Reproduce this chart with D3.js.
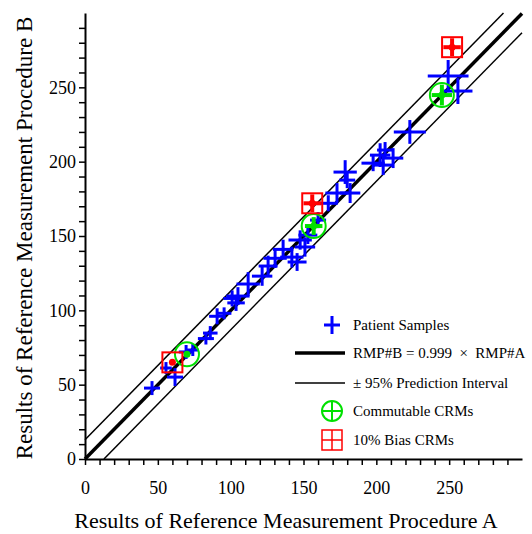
<!DOCTYPE html>
<meta charset="utf-8">
<script src="https://d3js.org/d3.v7.min.js"></script>
<style>
  body { margin: 0; background: #fff; }
</style>
<div id="chart"></div>
<script>
// patient samples: x, y and half-length of the error bars (data units)
var patX  = [46, 55.6, 61.8, 69.4, 74, 83, 86, 90.7, 95.5, 101, 105, 103.7, 112, 121.6, 125.7, 130.5, 136, 142, 145.6, 147.7, 151, 153, 160, 167, 173, 182, 178.6, 180, 197.8, 202.6, 211.5, 206, 204.7, 223, 249.3, 256];
var patY  = [47.7, 61.2, 55.1, 72, 73.3, 81, 84.7, 96, 98, 108, 109.6, 105, 117.7, 123, 129.8, 135, 141, 135.8, 132.5, 147.3, 142.6, 150.6, 160.7, 172, 178.9, 178.9, 193, 187.6, 199, 204.4, 202.4, 207.8, 197.7, 220, 257.6, 247.5];
var patXe = [5.5, 4, 5.5, 5, 4, 5.5, 5, 5.5, 5, 6, 8, 6, 8, 7, 6.5, 8, 7, 8, 6.5, 8, 7, 6.5, 5.5, 6.5, 8, 7, 8, 5.5, 8, 7, 7, 5.5, 7, 11, 14, 10];
var patYe = [4.7, 4, 6, 4.7, 4, 4, 4.7, 5.4, 4, 5.4, 6, 5.4, 8, 6.5, 7, 6.5, 6.5, 7, 6, 6.5, 6.5, 6, 5.4, 5.4, 6.7, 6.7, 8, 5.4, 5.4, 8, 6.7, 5.4, 6.7, 8, 10.8, 8.7];

// certified reference materials
var comX = [70, 157, 245];
var comY = [70.5, 156.7, 244.8];
var comE = [1.5, 6, 7];
var biasX = [60, 156, 252];
var biasY = [65, 172, 277];
var biasE = [1.5, 6, 6];

var slope = 0.999;
var pi95 = 13;
var xTicks = d3.range(0, 300, 10);
var yTicks = d3.range(0, 300, 10);
var labelTicks = [0, 50, 100, 150, 200, 250];

var serif = "'Times New Roman', 'Liberation Serif', 'DejaVu Serif', serif";
var width = 532, height = 534;
var svg = d3.select("#chart").append("svg")
    .attr("width", width).attr("height", height)
    .style("font-family", serif);

var x = d3.scaleLinear().domain([0, 300]).range([85, 522]);
var y = d3.scaleLinear().domain([0, 300]).range([459, 13]);

// axes
svg.append("g")
    .attr("transform", "translate(0,459)")
    .call(d3.axisBottom(x).tickValues(xTicks).tickSize(6).tickSizeOuter(0)
      .tickFormat(function(d) { return labelTicks.indexOf(d) >= 0 ? d : ""; }))
    .call(function(g) {
      g.attr("font-family", null).attr("font-size", null);
      g.select(".domain").attr("stroke-width", 2);
      g.selectAll(".tick line").attr("stroke-width", 1.5);
      g.selectAll(".tick text").style("font-size", "18px").style("font-family", serif).attr("dy", "1.45em");
    });

svg.append("g")
    .attr("transform", "translate(85,0)")
    .call(d3.axisLeft(y).tickValues(yTicks).tickSize(6).tickSizeOuter(0)
      .tickFormat(function(d) { return labelTicks.indexOf(d) >= 0 ? d : ""; }))
    .call(function(g) {
      g.attr("font-family", null).attr("font-size", null);
      g.select(".domain").attr("stroke-width", 2);
      g.selectAll(".tick line").attr("stroke-width", 1.5);
      g.selectAll(".tick text").style("font-size", "18px").style("font-family", serif).attr("x", -9);
    });

// axis titles
svg.append("text")
    .attr("x", 286).attr("y", 528)
    .attr("text-anchor", "middle")
    .style("font-size", "22px")
    .text("Results of Reference Measurement Procedure A");

svg.append("text")
    .attr("transform", "translate(32,238) rotate(-90)")
    .attr("text-anchor", "middle")
    .style("font-size", "23px")
    .text("Results of Reference Measurement Procedure B");

// regression and prediction lines
var plot = svg.append("g");
plot.append("line")
    .attr("x1", x(0)).attr("y1", y(0))
    .attr("x2", x(300)).attr("y2", y(300 * slope))
    .attr("stroke", "black").attr("stroke-width", 3.5);
plot.append("line")
    .attr("x1", x(0)).attr("y1", y(pi95))
    .attr("x2", x((300 - pi95) / slope)).attr("y2", y(300))
    .attr("stroke", "black").attr("stroke-width", 1.5);
plot.append("line")
    .attr("x1", x(pi95 / slope)).attr("y1", y(0))
    .attr("x2", x(300)).attr("y2", y(300 * slope - pi95))
    .attr("stroke", "black").attr("stroke-width", 1.5);

// patient crosses
var blue = "#0000ff";
patX.forEach(function(px, i) {
  var g = plot.append("g").attr("stroke", blue).attr("stroke-width", 3);
  g.append("line")
      .attr("x1", x(px - patXe[i])).attr("x2", x(px + patXe[i]))
      .attr("y1", y(patY[i])).attr("y2", y(patY[i]));
  g.append("line")
      .attr("x1", x(px)).attr("x2", x(px))
      .attr("y1", y(patY[i] - patYe[i])).attr("y2", y(patY[i] + patYe[i]));
});

function crmCross(g, cx, cy, e, col) {
  g.append("line").attr("stroke", col).attr("stroke-width", 4)
      .attr("x1", x(cx - e)).attr("x2", x(cx + e)).attr("y1", y(cy)).attr("y2", y(cy));
  g.append("line").attr("stroke", col).attr("stroke-width", 4)
      .attr("x1", x(cx)).attr("x2", x(cx)).attr("y1", y(cy - e)).attr("y2", y(cy + e));
  g.append("circle").attr("cx", x(cx)).attr("cy", y(cy)).attr("r", 3.5).attr("fill", col);
}

// commutable CRMs (green circle)
comX.forEach(function(cx, i) {
  var g = plot.append("g");
  crmCross(g, cx, comY[i], comE[i], "#00e000");
  g.append("circle").attr("cx", x(cx)).attr("cy", y(comY[i])).attr("r", 12)
      .attr("fill", "none").attr("stroke", "#00e000").attr("stroke-width", 2);
});

// 10% bias CRMs (red square)
biasX.forEach(function(bx, i) {
  var g = plot.append("g");
  crmCross(g, bx, biasY[i], biasE[i], "#ff0000");
  g.append("rect").attr("x", x(bx) - 10).attr("y", y(biasY[i]) - 10)
      .attr("width", 20).attr("height", 20)
      .attr("fill", "none").attr("stroke", "#ff0000").attr("stroke-width", 2);
});

// legend
var lg = svg.append("g");
var lx = 353, rows = [325, 353, 383, 411, 440];
var labels = ["Patient Samples", "RMP#B = 0.999 \u00a0\u00d7\u00a0 RMP#A", "\u00b1 95% Prediction Interval", "Commutable CRMs", "10% Bias CRMs"];
lg.selectAll("text.lab").data(labels).enter().append("text")
    .attr("class", "lab")
    .attr("x", lx).attr("y", function(d, i) { return rows[i]; })
    .attr("dy", "0.35em")
    .style("font-size", "15px")
    .text(function(d) { return d; });

lg.append("line").attr("x1", 324).attr("x2", 340).attr("y1", rows[0]).attr("y2", rows[0])
    .attr("stroke", blue).attr("stroke-width", 3);
lg.append("line").attr("x1", 332).attr("x2", 332).attr("y1", rows[0] - 9).attr("y2", rows[0] + 9)
    .attr("stroke", blue).attr("stroke-width", 3);
lg.append("line").attr("x1", 295).attr("x2", 345).attr("y1", rows[1]).attr("y2", rows[1])
    .attr("stroke", "black").attr("stroke-width", 3.5);
lg.append("line").attr("x1", 295).attr("x2", 345).attr("y1", rows[2]).attr("y2", rows[2])
    .attr("stroke", "black").attr("stroke-width", 1.5);

var gc = lg.append("g").attr("stroke", "#00e000").attr("stroke-width", 2).attr("fill", "none");
gc.append("circle").attr("cx", 332).attr("cy", rows[3]).attr("r", 10);
gc.append("line").attr("x1", 322).attr("x2", 342).attr("y1", rows[3]).attr("y2", rows[3]);
gc.append("line").attr("x1", 332).attr("x2", 332).attr("y1", rows[3] - 10).attr("y2", rows[3] + 10);

var rc = lg.append("g").attr("stroke", "#ff0000").attr("stroke-width", 1.5).attr("fill", "none");
rc.append("rect").attr("x", 322).attr("y", rows[4] - 10).attr("width", 20).attr("height", 20);
rc.append("line").attr("x1", 322).attr("x2", 342).attr("y1", rows[4]).attr("y2", rows[4]);
rc.append("line").attr("x1", 332).attr("x2", 332).attr("y1", rows[4] - 10).attr("y2", rows[4] + 10);
</script>
